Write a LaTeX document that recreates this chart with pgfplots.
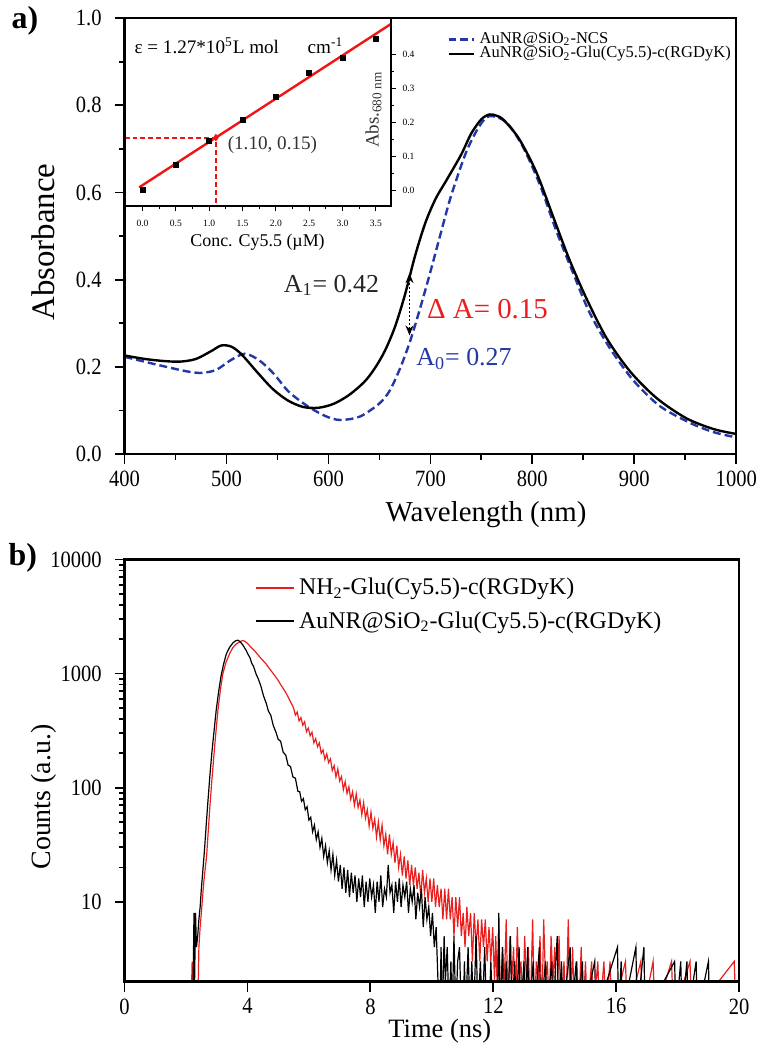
\documentclass[border=0pt]{standalone}
\usepackage{fontspec}
\setmainfont{Liberation Serif}
\usepackage{graphicx}
\usepackage{pgfplots}
\pgfplotsset{compat=1.18}
\usetikzlibrary{arrows.meta}

\definecolor{nblue}{RGB}{35,55,165}
\definecolor{nred}{RGB}{235,30,30}
\definecolor{fitred}{RGB}{240,20,20}
\newcommand\sq[1]{\scalebox{0.88}[1]{#1}}

\pgfplotsset{
  boxaxis/.style={
    scale only axis,
    axis x line*=bottom, axis y line*=left,
    tick align=outside,
    every tick/.append style={black, line width=0.9pt},
    major tick length=5pt, minor tick length=3pt,
    tick label style={font=\fontsize{11.7}{14}\selectfont},
    yticklabel style={xshift=-3pt},
  },
}

\begin{document}
\begin{tikzpicture}
\path (-62.5pt,226.25pt) rectangle (316.5pt,-298.75pt);

% ---------- panel a: absorbance ----------
\begin{axis}[boxaxis, name=pa,
  at={(0,0)}, anchor=south west,
  width=307pt, height=218.75pt,
  xmin=400, xmax=1000, ymin=0, ymax=1,
  xtick={400,500,600,700,800,900,1000},
  xticklabels={\sq{400},\sq{500},\sq{600},\sq{700},\sq{800},\sq{900},\sq{1000}},
  ytick={0,0.2,0.4,0.6,0.8,1.0},
  yticklabels={\sq{0.0},\sq{0.2},\sq{0.4},\sq{0.6},\sq{0.8},\sq{1.0}},
  minor x tick num=1, minor y tick num=1,
  xlabel={Wavelength (nm)},
  xlabel style={at={(axis description cs:0.591,-0.138)}, anchor=center, font=\fontsize{14.5}{16}\selectfont},
  ylabel={Absorbance},
  ylabel style={at={(axis description cs:-0.1335,0.486)}, anchor=center, font=\fontsize{16.5}{18}\selectfont},
  legend style={at={(0.527,0.977)}, anchor=north west, draw=none, fill=none,
    font=\fontsize{8.3}{9}\selectfont, inner sep=0pt, row sep=-4pt},
  legend cell align=left,
  legend image code/.code={\draw[#1] (0pt,0pt) -- (13pt,0pt);},
]
\addplot[nblue, line width=1.2pt, dash pattern=on 4pt off 2pt, smooth] coordinates {
(400,0.223) (428,0.207) (452,0.194) (465,0.188) (476,0.186) (490,0.193)
(504,0.215) (518,0.230) (532,0.215) (546,0.185) (561,0.143) (580,0.109)
(598,0.086) (612,0.078) (631,0.086) (650,0.116) (660,0.145) (670,0.195)
(680,0.258) (690,0.335) (700,0.418) (710,0.505) (720,0.590) (735,0.692)
(748,0.752) (758,0.775) (774,0.762) (790,0.708) (807,0.620) (823,0.515)
(840,0.415) (856,0.325) (876,0.243) (899,0.169) (925,0.110) (955,0.071)
(978,0.050) (1000,0.038)
};
\addlegendentry{AuNR@SiO\textsubscript{2}-NCS}
\addplot[black, line width=1.2pt, smooth] coordinates {
(400,0.226) (420,0.218) (440,0.213) (455,0.212) (470,0.218) (485,0.236)
(495,0.249) (505,0.246) (515,0.228) (530,0.188) (545,0.150) (560,0.123)
(575,0.108) (590,0.106) (605,0.115) (620,0.135) (635,0.165) (645,0.195)
(655,0.235) (665,0.290) (675,0.365) (685,0.455) (695,0.530) (705,0.585)
(715,0.625) (730,0.686) (740,0.735) (750,0.768) (758,0.779) (765,0.776)
(772,0.766) (787,0.723) (804,0.646) (820,0.547) (836,0.448) (853,0.357)
(873,0.265) (896,0.189) (922,0.128) (951,0.082) (978,0.057) (1000,0.046)
};
\addlegendentry{AuNR@SiO\textsubscript{2}-Glu(Cy5.5)-c(RGDyK)}
\draw[densely dotted, line width=1pt, {Stealth[length=5pt,width=4pt]}-{Stealth[length=5pt,width=4pt]}]
  (axis cs:679.5,0.415) -- (axis cs:679.5,0.272);
\node[font=\fontsize{13}{15}\selectfont, text=black!85] at (axis cs:603,0.387) {A\textsubscript{1}= 0.42};
\node[font=\fontsize{14.5}{16}\selectfont, text=nred] at (axis cs:756,0.333) {Δ A= 0.15};
\node[font=\fontsize{13}{15}\selectfont, text=nblue] at (axis cs:733,0.218) {A\textsubscript{0}= 0.27};
\end{axis}

% ---------- inset: calibration ----------
\begin{axis}[name=pin,
  scale only axis,
  at={(0,124.25pt)}, anchor=south west,
  width=133.5pt, height=94.5pt,
  xmin=-0.27, xmax=3.72, ymin=-0.047, ymax=0.506,
  axis x line*=bottom, axis y line*=right,
  axis background/.style={fill=white},
  every tick/.append style={black, line width=0.6pt},
  tick align=outside,
  major tick length=2.5pt, minor tick length=1.5pt,
  xtick={0,0.5,1,1.5,2,2.5,3,3.5},
  xticklabels={0.0,0.5,1.0,1.5,2.0,2.5,3.0,3.5},
  ytick={0,0.1,0.2,0.3,0.4},
  yticklabels={0.0,0.1,0.2,0.3,0.4},
  minor x tick num=1, minor y tick num=1,
  tick label style={font=\fontsize{4.8}{5}\selectfont},
  xticklabel style={yshift=-1pt},
  xlabel={Conc. Cy5.5 (µM)},
  xlabel style={at={(axis description cs:0.5,-0.19)}, anchor=center, font=\fontsize{9}{10}\selectfont},
]
\addplot[fitred, line width=1.2pt] coordinates {(-0.05,0.009) (3.72,0.488)};
\addplot[fitred, line width=0.9pt, dash pattern=on 2.5pt off 1.5pt] coordinates {(-0.27,0.155) (1.10,0.155) (1.10,-0.047)};
\addplot[only marks, mark=square*, mark size=1.3pt, black] coordinates {
(0,0.002) (0.5,0.074) (1.0,0.146) (1.5,0.208) (2.0,0.274) (2.5,0.345) (3.0,0.390) (3.5,0.444)
};
\addplot[only marks, mark=diamond*, mark size=1.6pt, fitred] coordinates {(1.10,0.155)};
\node[font=\fontsize{9.6}{11}\selectfont] at (rel axis cs:0.43,0.852) {ε = 1.27*10\textsuperscript{5}L mol\hspace{1.5em}cm\textsuperscript{-1}};
\node[font=\fontsize{9.6}{11}\selectfont, text=black!80] at (rel axis cs:0.556,0.328) {(1.10, 0.15)};
\node[rotate=90, font=\fontsize{9.5}{11}\selectfont, text=black!80] at (rel axis cs:0.936,0.513) {Abs.\textsubscript{680 nm}};
\end{axis}

\draw[line width=1.2pt] (pa.south west) rectangle (pa.north east);
\draw[line width=1pt] (pin.south west) rectangle (pin.north east);

\node[font=\bfseries\fontsize{16}{18}\selectfont] at (-50pt,217.25pt) {a)};
\node[font=\bfseries\fontsize{16}{18}\selectfont] at (-51pt,-52.25pt) {b)};

% ---------- panel b: decay ----------
\begin{axis}[boxaxis, name=pb,
  at={(0,-264.75pt)}, anchor=south west,
  width=308.45pt, height=211.85pt,
  ymode=log,
  xmin=0, xmax=20, ymin=2, ymax=10000,
  xtick={0,4,8,12,16,20},
  xticklabels={\sq{0},\sq{4},\sq{8},\sq{12},\sq{16},\sq{20}},
  ytick={10,100,1000,10000},
  yticklabels={\sq{10},\sq{100},\sq{1000},\sq{10000}},
  xlabel={Time (ns)},
  xlabel style={at={(axis description cs:0.513,-0.118)}, anchor=center, font=\fontsize{13.3}{15}\selectfont},
  ylabel={Counts (a.u.)},
  ylabel style={at={(axis description cs:-0.132,0.437)}, anchor=center, font=\fontsize{14}{16}\selectfont},
  legend style={at={(0.212,0.966)}, anchor=north west, draw=none, fill=none,
    font=\fontsize{12}{14}\selectfont, inner sep=0pt, row sep=3pt},
  legend cell align=left,
  legend image code/.code={\draw[#1, line width=1pt] (0pt,0pt) -- (19pt,0pt);},
]
\addplot[nred, line width=0.6pt] table {
0 1
2.16 1
2.20 3
2.24 1
2.38 1
2.42 4
2.46 6
2.50 8
2.54 11
2.58 15
2.62 19
2.67 25
2.72 40
2.78 70
2.84 115
2.90 180
2.96 280
3.04 480
3.12 720
3.20 1000
3.30 1250
3.42 1490
3.52 1680
3.63 1810
3.74 1890
3.85 1950
3.92 1910
4.00 1840
4.08 1740
4.17 1640
4.25 1560
4.35 1450
4.45 1350
4.55 1260
4.61 1210
4.70 1120
4.80 1030
4.90 950
5.00 870
5.08 800
5.14 756
5.22 700
5.30 640
5.38 580
5.44 540
5.50 500
5.56 432
5.62 460
5.68 384
5.74 411
5.80 353
5.86 378
5.92 309
5.98 332
6.04 285
6.10 306
6.16 247
6.22 269
6.28 228
6.34 247
6.40 200
6.46 214
6.52 176
6.58 198
6.64 166
6.70 179
6.76 141
6.82 156
6.88 124
6.94 146
7.00 114
7.06 125
7.12 96
7.18 113
7.24 89
7.30 102
7.36 79
7.42 92
7.48 70
7.54 88
7.60 67
7.66 78
7.72 58
7.78 74
7.84 54
7.90 64
7.96 46
8.02 61
8.08 44
8.14 53
8.20 37
8.26 50
8.32 35
8.38 47
8.44 31
8.50 39
8.56 26
8.62 39
8.68 26
8.74 33
8.80 22
8.86 31
8.92 20
8.98 26
9.04 17
9.10 25
9.16 16
9.22 23
9.28 14
9.34 21
9.40 14
9.46 20
9.52 13
9.58 18
9.64 11
9.70 19
9.76 12
9.82 16
9.88 10
9.94 16
10.00 10
10.06 16
10.12 9
10.18 14
10.24 9
10.30 13
10.36 7
10.42 13
10.48 7
10.54 13
10.60 7
10.66 11
10.72 5
10.78 11
10.84 6
10.90 11
10.96 5
11.02 8
11.08 4
11.14 9
11.20 5
11.26 8
11.32 3
11.38 8
11.44 4
11.50 7
11.56 3
11.62 7
11.68 4
11.74 7
11.80 3
11.86 6
11.92 3
11.98 6
12.04 2
12.08 5
12.12 2
12.18 6
12.24 1
12.30 4
12.36 2
12.42 7
12.48 1
12.54 5
12.60 2
12.66 4
12.72 1
12.78 6
12.84 2
12.90 3
12.96 1
13.02 5
13.08 2
13.14 4
13.20 1
13.28 7
13.34 1
13.40 3
13.46 2
13.52 5
13.58 1
13.64 7
13.70 2
13.76 3
13.82 1
13.88 5
13.94 2
14.00 4
14.06 1
14.14 5
14.20 1
14.30 3
14.36 1
14.44 7
14.50 1
14.58 4
14.64 1
14.72 3
14.78 1
14.86 4
14.92 1
15.00 3
15.06 1
15.20 3
15.26 1
15.40 3
15.46 1
15.60 3
15.66 1
15.80 3
15.86 1
16.30 3
16.36 1
16.80 3
16.86 1
17.20 3
17.26 1
17.80 3
17.86 1
18.40 3
18.46 1
19.84 3
19.90 1
20.00 1
};
\addlegendentry{NH\textsubscript{2}-Glu(Cy5.5)-c(RGDyK)}
\addplot[black, line width=0.6pt] table {
0 1
2.22 1
2.26 8
2.28 2
2.31 8
2.34 4
2.38 5
2.42 7
2.46 9
2.50 13
2.55 19
2.60 28
2.66 48
2.72 80
2.78 130
2.84 200
2.90 290
2.98 470
3.06 690
3.14 950
3.22 1200
3.31 1480
3.42 1700
3.53 1860
3.62 1940
3.69 1960
3.76 1900
3.84 1790
3.90 1690
3.96 1590
4.02 1470
4.08 1380
4.14 1230
4.20 1150
4.28 990
4.36 890
4.44 770
4.52 640
4.61 550
4.68 470
4.76 430
4.84 350
4.93 305
5.00 265
5.08 255
5.16 205
5.25 192
5.32 158
5.40 153
5.48 124
5.56 121
5.64 93
5.70 92
5.76 76
5.82 80
5.88 64
5.94 68
6.00 52
6.06 55
6.12 41
6.18 47
6.24 35
6.30 41
6.36 30
6.42 36
6.48 25
6.54 31
6.60 22
6.66 28
6.72 19
6.78 26
6.84 17
6.90 23
6.96 15
7.02 21
7.08 13
7.14 20
7.20 12
7.26 19
7.32 11
7.38 18
7.44 12
7.50 17
7.56 10
7.62 16
7.68 11
7.74 17
7.80 9
7.86 15
7.92 10
7.98 16
8.04 11
8.10 14
8.16 8
8.22 15
8.28 10
8.34 17
8.40 9
8.46 13
8.52 11
8.58 21
8.64 12
8.70 14
8.76 8
8.82 15
8.88 10
8.94 16
9.00 9
9.06 14
9.12 11
9.18 15
9.24 8
9.30 13
9.36 10
9.42 14
9.48 7
9.54 12
9.60 9
9.66 13
9.72 6
9.78 11
9.84 7
9.90 9
9.96 5
10.02 8
10.08 4
10.14 6
10.20 2
10.23 1
10.26 1
10.30 4
10.34 1
10.40 5
10.44 2
10.50 4
10.56 1
10.62 3
10.66 1
10.72 5
10.78 1
10.84 3
10.90 4
10.96 1
11.02 1
11.06 3
11.10 1
11.18 4
11.24 1
11.30 3
11.36 1
11.44 5
11.50 1
11.58 3
11.64 1
11.72 4
11.78 1
11.86 1
11.92 3
11.98 1
12.14 1
12.18 8
12.22 1
12.30 4
12.34 1
12.42 3
12.46 1
12.56 5
12.60 1
12.70 3
12.74 1
12.84 4
12.88 1
13.00 3
13.04 1
13.12 4
13.16 1
13.30 3
13.34 1
13.50 4
13.54 1
13.70 3
13.74 1
13.90 3
13.94 1
14.08 5
14.12 1
14.22 3
14.26 1
14.50 4
14.54 1
14.70 3
14.74 1
14.90 3
14.94 1
15.30 3
15.34 1
16.04 4
16.08 1
16.16 3
16.20 1
16.64 4
16.68 1
16.90 4
16.94 1
17.90 3
17.94 1
18.10 3
18.14 1
18.30 3
18.34 1
18.60 3
18.64 1
19.00 3
19.04 1
20.00 1
};
\addlegendentry{AuNR@SiO\textsubscript{2}-Glu(Cy5.5)-c(RGDyK)}
\end{axis}
\draw[line width=1.2pt] (pb.south west) rectangle (pb.north east);
\end{tikzpicture}
\end{document}
